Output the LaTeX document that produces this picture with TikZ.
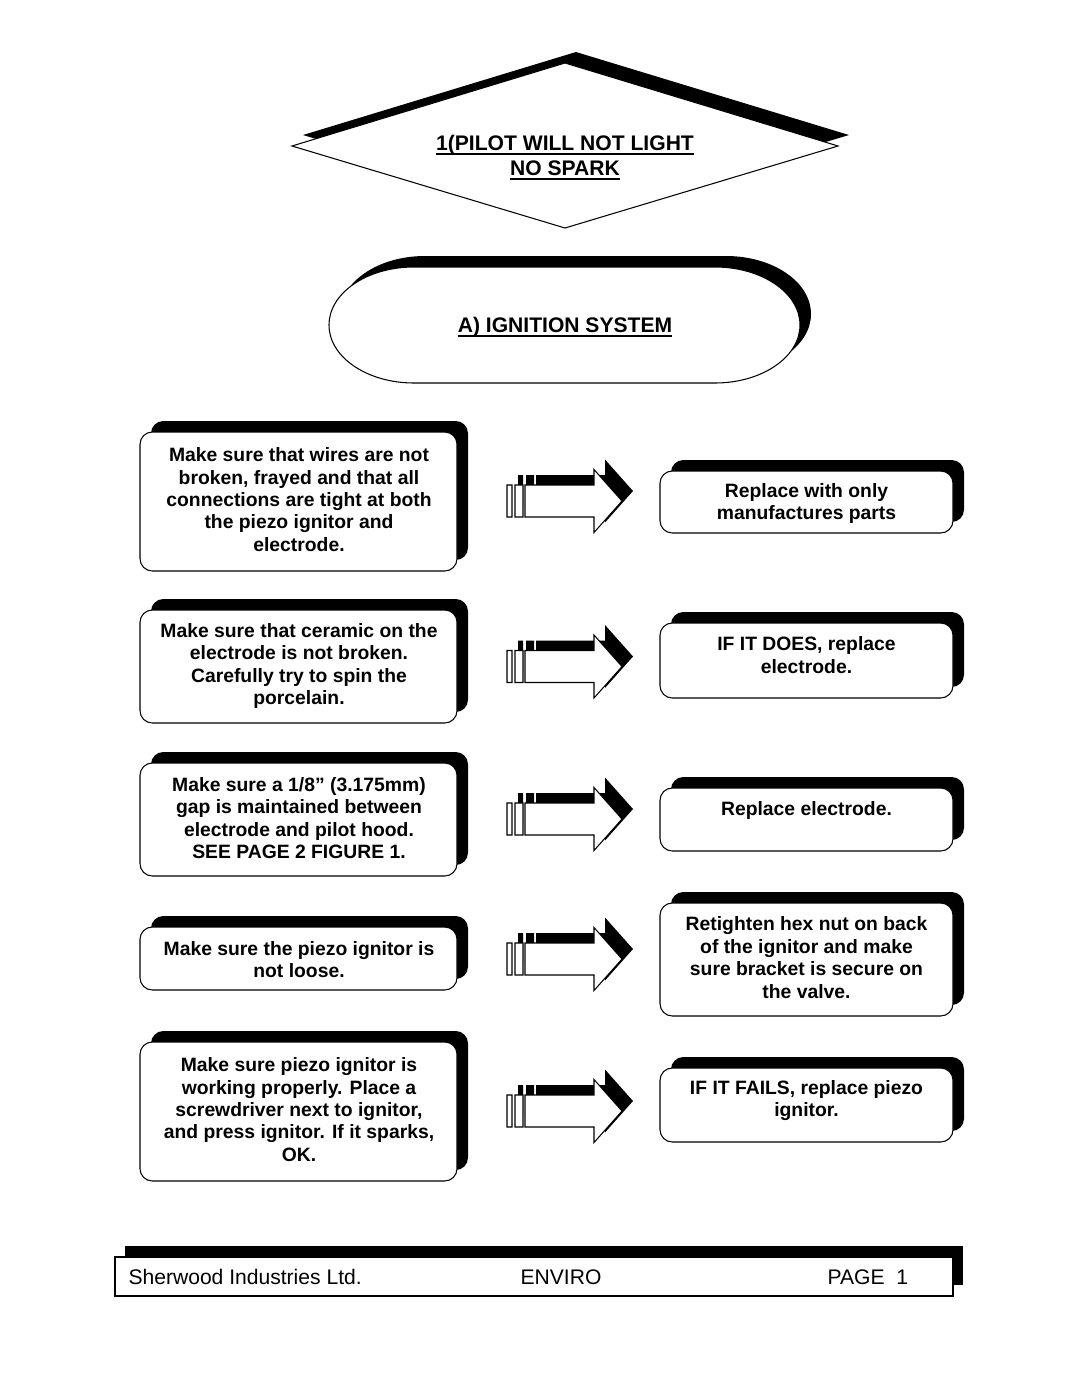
\documentclass[tikz,border=0pt]{standalone}
\usepackage{fontspec}
\setmainfont{Liberation Sans}
\newcommand\tipbox[4]{%
    \fill[rounded corners=7pt] ({#1+11},{#2-11}) rectangle ({#3+11},{#4-11});
    \filldraw[fill=white,rounded corners=7pt] (#1,#2) rectangle (#3,#4);}
\newcommand\thickul[1]{\setbox0\hbox{#1}\rlap{\rule[-2.4pt]{\wd0}{1.1pt}}\box0}
\begin{document}
\begin{tikzpicture}[x=0.02cm,y=-0.02cm,line width=0.6pt,
    txt/.style={align=center,inner sep=0pt,font=\bfseries\fontsize{11}{12.75}\selectfont},
    head/.style={align=center,inner sep=0pt,font=\bfseries\fontsize{12}{14.2}\selectfont},
    foot/.style={inner sep=0pt,font=\fontsize{12}{14}\selectfont}]
    \useasboundingbox (0,0) rectangle (1080,1397);
    % title
    \fill (303,135) -- (576,52) -- (849,135) -- (576,217) -- cycle;
    \filldraw[fill=white] (292,146) -- (565,63) -- (838,146) -- (565,228) -- cycle;
    \node[head] (title) at (565,157.5) {\thickul{1(PILOT WILL NOT LIGHT}\\\thickul{NO SPARK}};
    \fill[shift={(11,-11)}] (414,267) -- (715,267) arc[start angle=-90,end angle=90,x radius=85,y radius=58]
        -- (414,383) arc[start angle=90,end angle=270,x radius=85,y radius=58] -- cycle;
    \filldraw[fill=white] (414,267) -- (715,267) arc[start angle=-90,end angle=90,x radius=85,y radius=58]
        -- (414,383) arc[start angle=90,end angle=270,x radius=85,y radius=58] -- cycle;
    \node[head] (system) at (565,327) {\thickul{A) IGNITION SYSTEM}};
    % checks
    \tipbox{140}{432}{457}{571}
    \node[txt] (wires) at (299,499.5) {Make sure that wires are not\\broken, frayed and that all\\connections are tight at both\\the piezo ignitor and\\electrode.};
    \tipbox{140}{610}{457}{723}
    \node[txt] (ceramic) at (299,666) {Make sure that ceramic on the\\electrode is not broken.\\Carefully try to spin the\\porcelain.};
    \tipbox{140}{763}{457}{876}
    \node[txt] (gap) at (299,818) {Make sure a 1/8” (3.175mm)\\gap is maintained between\\electrode and pilot hood.\\SEE PAGE 2 FIGURE 1.};
    \tipbox{140}{927}{457}{990}
    \node[txt] (loose) at (299,959.5) {Make sure the piezo ignitor is\\not loose.};
    \tipbox{140}{1042}{457}{1181}
    \node[txt] (spark) at (299,1109.5) {Make sure piezo ignitor is\\working properly. Place a\\screwdriver next to ignitor,\\and press ignitor. If it sparks,\\OK.};
    % remedies
    \tipbox{660}{471}{953}{533}
    \node[txt] (parts) at (806.5,503.5) {Replace with only\\manufactures parts};
    \tipbox{660}{623}{953}{698}
    \node[txt] (does) at (806.5,655) {IF IT DOES, replace\\electrode.};
    \tipbox{660}{788}{953}{851}
    \node[txt] (electrode) at (806.5,810) {Replace electrode.};
    \tipbox{660}{903}{953}{1016}
    \node[txt] (hexnut) at (806.5,957.5) {Retighten hex nut on back\\of the ignitor and make\\sure bracket is secure on\\the valve.};
    \tipbox{660}{1068}{953}{1142}
    \node[txt] (fails) at (806.5,1100.5) {IF IT FAILS, replace piezo\\ignitor.};
    % block arrows
    \foreach \cy in {501,666.5,819,959,1111}{
        \fill[shift={(11,-10)}] (507,\cy-16) rectangle (512,\cy+16) (515,\cy-16) rectangle (523,\cy+16)
            (525,\cy-16) -- (594,\cy-16) -- (594,\cy-31.5) -- (622,\cy) -- (594,\cy+31.5) -- (594,\cy+16) -- (525,\cy+16) -- cycle;
        \filldraw[fill=white] (507,\cy-16) rectangle (512,\cy+16) (515,\cy-16) rectangle (523,\cy+16)
            (525,\cy-16) -- (594,\cy-16) -- (594,\cy-31.5) -- (622,\cy) -- (594,\cy+31.5) -- (594,\cy+16) -- (525,\cy+16) -- cycle;
    }
    % footer
    \fill (125,1246) rectangle (963,1285);
    \filldraw[fill=white] (115,1257) rectangle (953,1296);
    \node[foot,anchor=west] (company) at (128,1277) {Sherwood Industries Ltd.};
    \node[foot] (model) at (561,1277) {ENVIRO};
    \node[foot,anchor=west] (page) at (827,1277) {PAGE\ \ 1};
\end{tikzpicture}
\end{document}
